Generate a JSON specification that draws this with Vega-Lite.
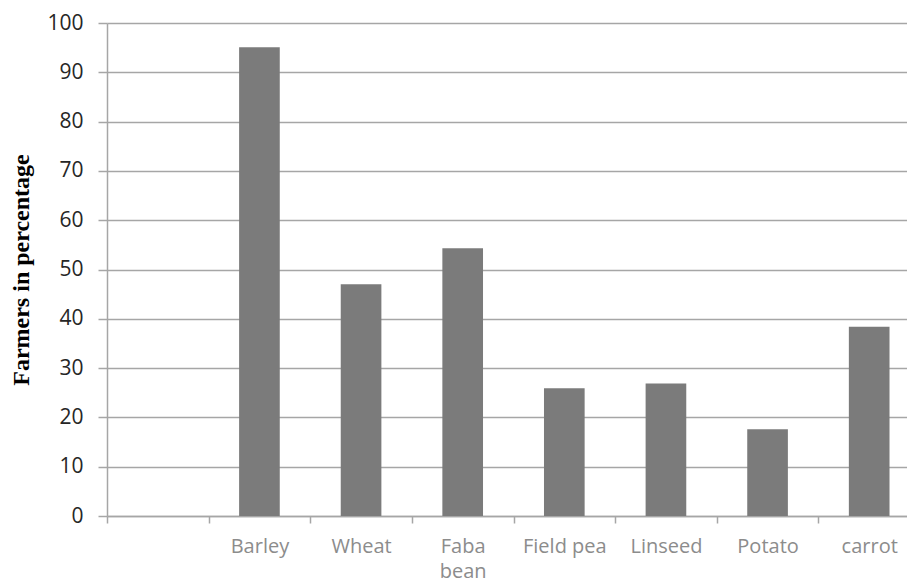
{
  "$schema": "https://vega.github.io/schema/vega-lite/v6.json",
  "autosize": "none",
  "width": 800,
  "height": 493,
  "padding": {"left": 107, "top": 23, "right": 0, "bottom": 71},
  "background": "white",
  "config": {"view": {"stroke": null}},
  "data": {"values": [
    {"crop": "Barley", "value": 95.1},
    {"crop": "Wheat", "value": 47.0},
    {"crop": "Faba bean", "value": 54.3},
    {"crop": "Field pea", "value": 25.9},
    {"crop": "Linseed", "value": 26.9},
    {"crop": "Potato", "value": 17.6},
    {"crop": "carrot", "value": 38.4}
  ]},
  "mark": {"type": "bar", "color": "#7b7b7b", "width": {"band": 0.4}},
  "encoding": {
    "x": {
      "field": "crop", "type": "nominal", "sort": null,
      "scale": {"domain": [" ", "Barley", "Wheat", "Faba bean", "Field pea", "Linseed", "Potato", "carrot"], "paddingInner": 0, "paddingOuter": 0, "range": [0, 813]},
      "axis": {
        "title": null, "labelAngle": 0, "tickBand": "extent",
        "domainColor": "#a6a6a6", "domainWidth": 1.5,
        "tickColor": "#a6a6a6", "tickWidth": 1.5, "tickSize": 7,
        "labelFont": "Open Sans", "labelFontSize": 20, "labelColor": "#8c8c8c",
        "labelPadding": 13, "labelLineHeight": 25, "labelBaseline": "top",
        "labelExpr": "datum.label == 'Faba bean' ? ['Faba', 'bean'] : datum.label",
        "grid": false
      }
    },
    "y": {
      "field": "value", "type": "quantitative",
      "scale": {"domain": [0, 100], "nice": false},
      "axis": {
        "title": "Farmers in percentage",
        "titleFont": "Liberation Serif", "titleFontSize": 24, "titleFontWeight": "bold",
        "titleColor": "black", "titlePadding": 13,
        "values": [0,10,20,30,40,50,60,70,80,90,100],
        "grid": true, "gridColor": "#a6a6a6", "gridWidth": 1.5,
        "domainColor": "#a6a6a6", "domainWidth": 1.5,
        "tickColor": "#a6a6a6", "tickWidth": 1.5, "tickSize": 9,
        "labelFont": "Open Sans", "labelFontSize": 21, "labelColor": "#262626",
        "labelPadding": 15
      }
    }
  }
}
